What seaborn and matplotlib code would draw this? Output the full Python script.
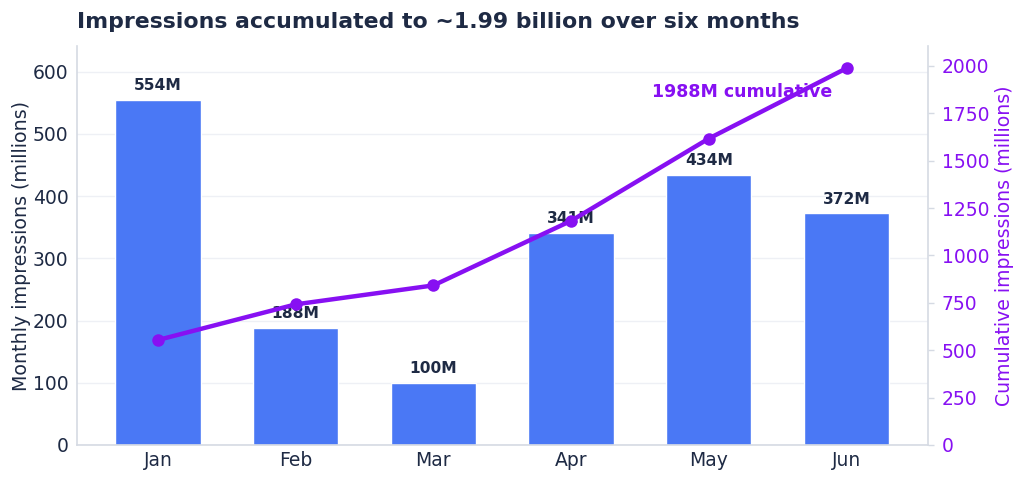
import matplotlib
matplotlib.use('Agg')
import matplotlib.pyplot as plt
import pandas as pd
import seaborn as sns

months = ['Jan', 'Feb', 'Mar', 'Apr', 'May', 'Jun']
monthly = [554, 188, 100, 341, 434, 372]
cumulative = [554, 742, 842, 1183, 1617, 1988]

BAR_COLOR = '#4a78f5'
LINE_COLOR = '#8710f2'
TEXT_COLOR = '#1e2a44'
SPINE_COLOR = '#d5dae3'
GRID_COLOR = '#eef0f5'

df = pd.DataFrame({'month': months, 'monthly': monthly, 'cumulative': cumulative})

sns.set_theme(style='white')
plt.rcParams['font.family'] = ['DejaVu Sans']

fig = plt.figure(figsize=(10.24, 4.8), dpi=100)
ax = fig.add_axes([0.075, 0.073, 0.831, 0.831])

sns.barplot(data=df, x='month', y='monthly', color=BAR_COLOR, width=0.62,
            saturation=1, ax=ax, zorder=2)
ax.set_ylim(0, 641)
ax.set_xlim(-0.59, 5.59)
ax.set_yticks([0, 100, 200, 300, 400, 500, 600])
ax.yaxis.grid(True, color=GRID_COLOR, linewidth=1, zorder=0)
ax.set_axisbelow(True)
ax.set_xlabel('')
ax.set_ylabel('Monthly impressions (millions)', fontsize=13.7, color=TEXT_COLOR,
              labelpad=1)
ax.tick_params(axis='y', labelsize=13.5, colors=TEXT_COLOR, length=0, pad=6)
ax.tick_params(axis='x', labelsize=13.5, colors=TEXT_COLOR, length=0, pad=4)
for s in ['top', 'right']:
    ax.spines[s].set_visible(False)
for s in ['left', 'bottom']:
    ax.spines[s].set_color(SPINE_COLOR)
    ax.spines[s].set_linewidth(1.2)

for i, v in enumerate(monthly):
    ax.annotate(f'{v}M', (i, v), xytext=(0, 5), textcoords='offset points',
                ha='center', va='bottom', fontsize=11.2, fontweight='bold',
                color=TEXT_COLOR, zorder=5)

ax2 = ax.twinx()
sns.lineplot(data=df, x='month', y='cumulative', color=LINE_COLOR, linewidth=3.2,
             marker='o', markersize=9, markeredgewidth=0, ax=ax2, zorder=4)
ax2.set_ylim(0, 2105)
ax2.set_yticks([0, 250, 500, 750, 1000, 1250, 1500, 1750, 2000])
ax2.set_ylabel('Cumulative impressions (millions)', fontsize=13.6, color=LINE_COLOR)
ax2.set_xlabel('')
ax2.tick_params(axis='y', labelsize=13.5, colors=LINE_COLOR, length=4, width=1, pad=6)
ax2.tick_params(axis='y', color=SPINE_COLOR)
for s in ['top', 'left', 'bottom']:
    ax2.spines[s].set_visible(False)
ax2.spines['right'].set_color(SPINE_COLOR)
ax2.spines['right'].set_linewidth(1.2)
ax2.grid(False)

ax2.annotate(f'{cumulative[-1]}M cumulative', (5, cumulative[-1]), xytext=(-10, -17),
             textcoords='offset points', ha='right', va='center', fontsize=12.5,
             fontweight='bold', color=LINE_COLOR)

ax.set_zorder(ax2.get_zorder() - 1)
ax.patch.set_visible(True)
ax2.patch.set_visible(False)

fig.text(0.075, 0.955, 'Impressions accumulated to ~1.99 billion over six months',
         fontsize=15.8, fontweight='bold', color=TEXT_COLOR, ha='left', va='center')

fig.savefig('out.png', dpi=100)
